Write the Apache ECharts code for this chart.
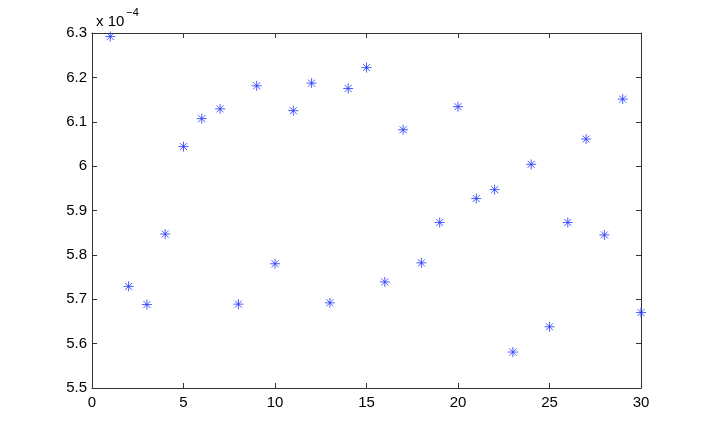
<!DOCTYPE html>
<html>
<head>
<meta charset="utf-8">
<script src="https://cdn.jsdelivr.net/npm/echarts@6/dist/echarts.min.js"></script>
<style>
  html, body { margin: 0; padding: 0; background: #fff; }
  #chart { width: 708px; height: 436px; }
</style>
</head>
<body>
<div id="chart"></div>
<script>
// sample index 1..30
const xIndex = [1, 2, 3, 4, 5, 6, 7, 8, 9, 10, 11, 12, 13, 14, 15,
                16, 17, 18, 19, 20, 21, 22, 23, 24, 25, 26, 27, 28, 29, 30];
// values in units of 1e-4
const yValues = [6.292, 5.729, 5.688, 5.847, 6.044, 6.107, 6.129, 5.689, 6.181, 5.780,
                 6.125, 6.187, 5.692, 6.175, 6.222, 5.739, 6.082, 5.782, 5.873, 6.134,
                 5.927, 5.947, 5.581, 6.004, 5.638, 5.873, 6.061, 5.845, 6.151, 5.670];
const xTicks = [0, 5, 10, 15, 20, 25, 30];
const yTicks = [5.5, 5.6, 5.7, 5.8, 5.9, 6, 6.1, 6.2, 6.3];

const font = "Helvetica, 'Liberation Sans', Arial, sans-serif";
const axisColor = "#333";

function baseAxis(extra) {
  return Object.assign({
    type: "value",
    axisLine: { show: true, onZero: false, lineStyle: { color: axisColor, width: 1 } },
    axisTick: { show: true, inside: true, length: 5, lineStyle: { color: axisColor } },
    splitLine: { show: false }
  }, extra);
}

const chart = echarts.init(document.getElementById("chart"));
chart.setOption({
  animation: false,
  backgroundColor: "#fff",
  title: {
    text: "{a|x 10}{b|−4}",
    left: 91,
    top: 2,
    textStyle: {
      fontWeight: "normal",
      rich: {
        a: { fontFamily: font, fontSize: 15, fontWeight: "normal", color: "#000", verticalAlign: "bottom", padding: [7, 0, 0, 0] },
        b: { fontFamily: font, fontSize: 11, fontWeight: "normal", color: "#000", verticalAlign: "top", padding: [0, 0, 7, 2] }
      }
    }
  },
  grid: { left: 92, right: 67, top: 33, bottom: 48, containLabel: false },
  xAxis: [
    baseAxis({
      position: "bottom",
      min: xTicks[0], max: xTicks[xTicks.length - 1], interval: 5,
      axisLabel: { color: "#000", fontFamily: font, fontSize: 15, margin: 7 }
    }),
    baseAxis({
      position: "top",
      min: xTicks[0], max: xTicks[xTicks.length - 1], interval: 5,
      axisLabel: { show: false }
    })
  ],
  yAxis: [
    baseAxis({
      position: "left",
      min: yTicks[0], max: yTicks[yTicks.length - 1], interval: 0.1,
      axisLabel: {
        color: "#000", fontFamily: font, fontSize: 15, margin: 5,
        formatter: v => String(Math.round(v * 10) / 10)
      }
    }),
    baseAxis({
      position: "right",
      min: yTicks[0], max: yTicks[yTicks.length - 1], interval: 0.1,
      axisLabel: { show: false }
    })
  ],
  series: [{
    type: "scatter",
    xAxisIndex: 0,
    yAxisIndex: 0,
    data: xIndex.map((x, i) => [x, yValues[i]]),
    symbol: "path://M0,-5L0,5M-5,0L5,0M-3.5,-3.5L3.5,3.5M-3.5,3.5L3.5,-3.5",
    symbolSize: 10,
    itemStyle: { color: "none", borderColor: "#1f35ff", borderWidth: 1 },
    clip: false
  }]
});
</script>
</body>
</html>
